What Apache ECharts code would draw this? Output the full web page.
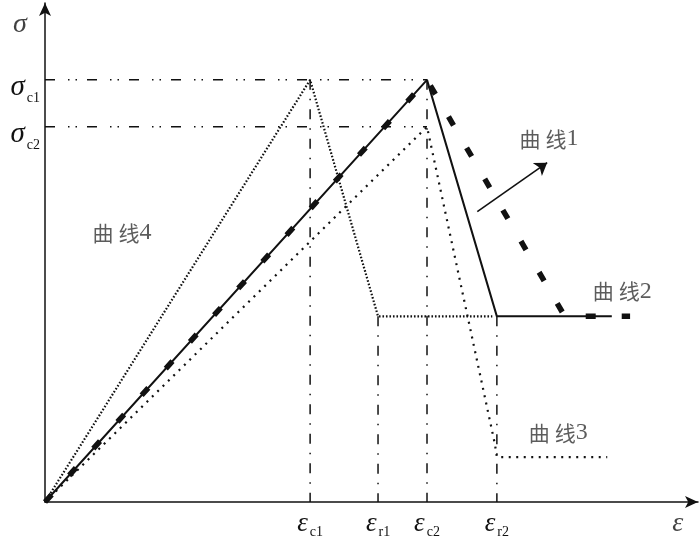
<!DOCTYPE html>
<html>
<head>
<meta charset="utf-8">
<script src="https://cdn.jsdelivr.net/npm/echarts@6/dist/echarts.min.js"></script>
<style>html,body{margin:0;padding:0;background:#fff}#c{width:700px;height:539px}</style>
</head>
<body>
<div id="c"></div>
<script>
// strain marks on x axis (ε), stress marks on y axis (σ)
const strainValues = [40.6, 51.0, 58.5, 69.2];
const strainSubs = ['c1', 'r1', 'c2', 'r2'];
const stressValues = [84.6, 75.2];
const stressSubs = ['c1', 'c2'];
const residual = 37.2;

const curve1 = [[0, 0], [58.5, 84.6], [79.6, 37.2], [89.6, 37.2]];
const curve2 = [[0, 0], [58.5, 84.6], [69.2, 37.2], [86.8, 37.2]];
const curve3 = [[0, 0], [58.5, 75.2], [68.9, 11.6], [69.2, 9.0], [86.1, 9.0]];
const curve4 = [[0, 0], [40.6, 84.6], [51.0, 37.2], [68.5, 37.2]];
const arrow1 = [[66.2, 58.2], [76.9, 68.0]];

const curveNames = ['曲线1', '曲线2', '曲线3', '曲线4'];
const curveLabelPos = [[77.2, 72.8], [88.4, 42.2], [78.6, 13.8], [11.8, 54.0]];

const chart = echarts.init(document.getElementById('c'), null, {renderer: 'canvas'});

const black = '#111';
const serif = 'Liberation Serif';

function lineSeries(data, style, z) {
  return {
    type: 'line', data: data, showSymbol: false, symbol: 'none', silent: true,
    lineStyle: Object.assign({color: black, width: 1.5}, style), z: z || 2, animation: false
  };
}

const series = [];
// horizontal reference lines at σc1, σc2
stressValues.forEach(v => {
  series.push(lineSeries([[0, v], [58.5, v]], {type: [10, 13, 1.5, 6, 1.5, 10], width: 1.5}, 1));
});
// vertical reference lines
const vertTops = [84.6, residual, 84.6, residual];
strainValues.forEach((v, i) => {
  series.push(lineSeries([[v, vertTops[i]], [v, 0]], {type: [10, 9, 1.5, 9], width: 1.5}, 1));
});
series.push(lineSeries(curve4, {type: [1.6, 1.9], width: 2.2}, 3));
series.push(lineSeries(curve3, {type: [2, 5.5], width: 2.2}, 3));
series.push(lineSeries(curve2, {type: 'solid', width: 2}, 4));
series.push(lineSeries(curve1, {type: [10, 26], width: 5.5}, 5));
series.push({
  type: 'lines', coordinateSystem: 'cartesian2d', silent: true, animation: false,
  symbol: ['none', 'arrow'], symbolSize: [9, 12],
  lineStyle: {color: black, width: 1.6, curveness: 0, opacity: 1},
  data: [{coords: arrow1}], z: 5
});
series.push({
  type: 'scatter', symbolSize: 0, silent: true, animation: false,
  data: curveNames.map((n, i) => ({name: n, value: curveLabelPos[i]})),
  label: {show: true, position: 'inside',
    formatter: p => '{a|' + p.name[0] + '}{b|' + p.name[1] + '}{n|' + p.name.slice(2) + '}',
    rich: {
      a: {fontFamily: 'Noto Sans CJK SC', fontSize: 21, color: '#333'},
      b: {fontFamily: 'Noto Sans CJK SC', fontSize: 21, color: '#333', padding: [0, 0, 0, 5]},
      n: {fontFamily: serif, fontSize: 24, color: '#333'}
    }
  }
});
// axis names
series.push({
  type: 'scatter', symbolSize: 0, silent: true, animation: false,
  data: [
    {value: [0, 95.6], label: {offset: [-25, 0], formatter: 'σ'}},
    {value: [97.2, 0], label: {offset: [-2, 22], formatter: 'ε'}}
  ],
  label: {show: true, position: 'inside', color: black, fontFamily: serif, fontStyle: 'italic', fontSize: 28}
});

const option = {
  animation: false,
  backgroundColor: '#fff',
  grid: {left: 45, right: 2, top: 3, bottom: 36, containLabel: false},
  xAxis: {
    type: 'value', min: 0, max: 100,
    axisLine: {show: true, symbol: ['none', 'arrow'], symbolSize: [9, 13], lineStyle: {color: black, width: 1.5}},
    axisTick: {show: false}, splitLine: {show: false},
    axisLabel: {
      show: true, customValues: strainValues, margin: 8,
      formatter: v => '{g|ε}{s|' + strainSubs[strainValues.indexOf(v)] + '}',
      rich: {
        g: {fontFamily: serif, fontStyle: 'italic', fontSize: 27, color: black, verticalAlign: 'bottom'},
        s: {fontFamily: serif, fontSize: 14, color: black, verticalAlign: 'bottom', padding: [0, 0, -2, 2]}
      }
    }
  },
  yAxis: {
    type: 'value', min: 0, max: 100,
    axisLine: {show: true, symbol: ['none', 'arrow'], symbolSize: [9, 13], lineStyle: {color: black, width: 1.5}},
    axisTick: {show: false}, splitLine: {show: false},
    axisLabel: {
      show: true, customValues: stressValues, margin: 5,
      formatter: v => '{g|σ}{s|' + stressSubs[stressValues.indexOf(v)] + '}',
      padding: [16, 0, 0, 0],
      rich: {
        g: {fontFamily: serif, fontStyle: 'italic', fontSize: 29, color: black, verticalAlign: 'bottom'},
        s: {fontFamily: serif, fontSize: 14, color: black, verticalAlign: 'bottom', padding: [0, 0, -3, 2]}
      }
    }
  },
  series: series
};
chart.setOption(option);
</script>
</body>
</html>
